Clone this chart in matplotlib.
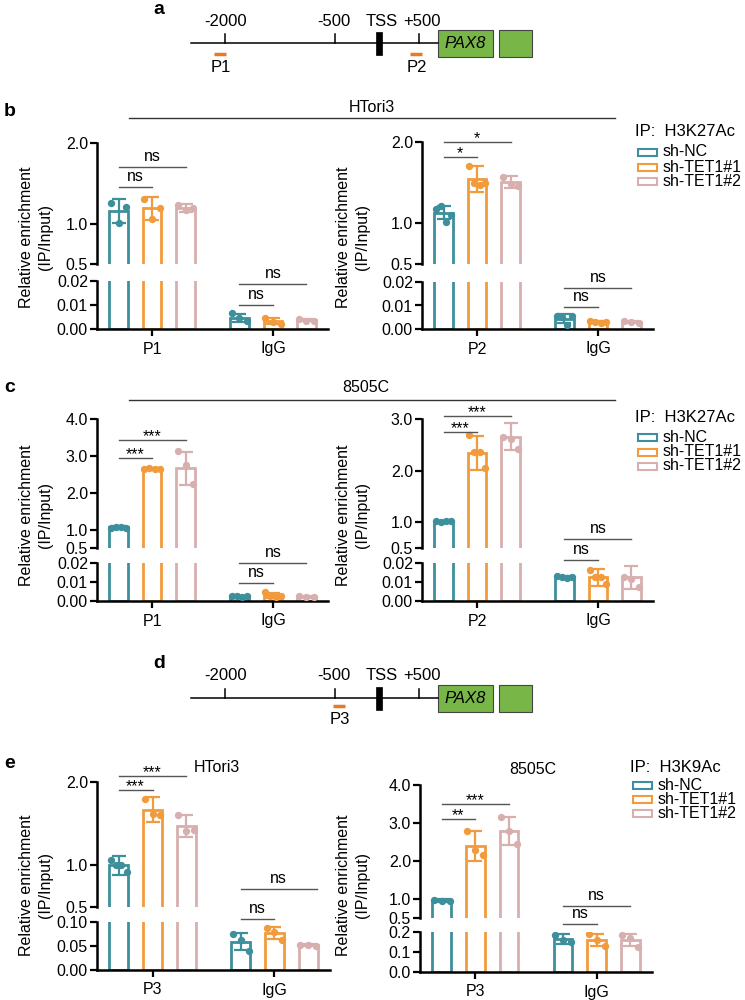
import matplotlib
matplotlib.use("Agg")
import matplotlib.pyplot as plt
from matplotlib.patches import Rectangle
import numpy as np

plt.rcParams['font.family'] = ['Liberation Sans', 'DejaVu Sans']

W, H = 745, 1000

# ---------------- data ----------------
GROUPS = ["sh-NC", "sh-TET1#1", "sh-TET1#2"]
COLORS = ["#3d8f9b", "#f29b3d", "#d8afaf"]

# b: HTori3, H3K27Ac, P1
B1_CATS = ["P1", "IgG"]
B1_P_MEAN = [1.16, 1.19, 1.20]
B1_P_SD = [0.15, 0.14, 0.05]
B1_P_PTS = [[1.26, 1.01, 1.21], [1.31, 1.06, 1.20], [1.23, 1.17, 1.20]]
B1_I_MEAN = [0.0047, 0.0032, 0.0037]
B1_I_SD = [0.0017, 0.0012, 0.0004]
B1_I_PTS = [[0.0065, 0.0045, 0.0032], [0.0045, 0.0028, 0.0022], [0.0042, 0.0035, 0.0035]]
B1_SIG = [("u", 0, 0, 2, 1.70, "ns"), ("u", 0, 0, 1, 1.46, "ns"),
          ("l", 1, 0, 2, 0.0188, "ns"), ("l", 1, 0, 1, 0.0100, "ns")]

# b: HTori3, H3K27Ac, P2
B2_CATS = ["P2", "IgG"]
B2_P_MEAN = [1.13, 1.54, 1.51]
B2_P_SD = [0.08, 0.16, 0.07]
B2_P_PTS = [[1.18, 1.21, 1.02, 1.10], [1.70, 1.50, 1.47, 1.49], [1.57, 1.48, 1.46]]
B2_I_MEAN = [0.0044, 0.0029, 0.0029]
B2_I_SD = [0.0019, 0.0004, 0.0004]
B2_I_PTS = [[0.0055, 0.0050, 0.0015, 0.0055], [0.0032, 0.0028, 0.0025, 0.0030], [0.0032, 0.0028, 0.0026]]
B2_SIG = [("u", 0, 0, 2, 2.00, "*"), ("u", 0, 0, 1, 1.81, "*"),
          ("l", 1, 0, 2, 0.0175, "ns"), ("l", 1, 0, 1, 0.0094, "ns")]

# c: 8505C, H3K27Ac, P1
C1_CATS = ["P1", "IgG"]
C1_P_MEAN = [1.06, 2.65, 2.66]
C1_P_SD = [0.03, 0.03, 0.45]
C1_P_PTS = [[1.04, 1.08, 1.07, 1.05], [2.63, 2.67, 2.65, 2.64], [3.13, 2.74, 2.25]]
C1_I_MEAN = [0.0025, 0.0030, 0.0022]
C1_I_SD = [0.0003, 0.0014, 0.0003]
C1_I_PTS = [[0.0027, 0.0026, 0.0023, 0.0025], [0.0048, 0.0028, 0.0020, 0.0025], [0.0025, 0.0022, 0.0020]]
C1_SIG = [("u", 0, 0, 2, 3.43, "***"), ("u", 0, 0, 1, 2.93, "***"),
          ("l", 1, 0, 2, 0.0200, "ns"), ("l", 1, 0, 1, 0.0095, "ns")]

# c: 8505C, H3K27Ac, P2
C2_CATS = ["P2", "IgG"]
C2_P_MEAN = [1.02, 2.35, 2.66]
C2_P_SD = [0.01, 0.33, 0.27]
C2_P_PTS = [[1.02, 1.01, 1.03, 1.02], [2.69, 2.36, 2.37, 2.05], [2.65, 2.62, 2.41]]
C2_I_MEAN = [0.0125, 0.0125, 0.0125]
C2_I_SD = [0.0005, 0.0045, 0.0060]
C2_I_PTS = [[0.0130, 0.0125, 0.0122, 0.0128], [0.0165, 0.0128, 0.0125, 0.0090], [0.0127, 0.0116, 0.0075]]
C2_SIG = [("u", 0, 0, 2, 3.06, "***"), ("u", 0, 0, 1, 2.75, "***"),
          ("u", 1, 0, 2, 0.67, "ns"), ("l", 1, 0, 1, 0.0215, "ns")]

# e: HTori3, H3K9Ac, P3
E1_CATS = ["P3", "IgG"]
E1_P_MEAN = [1.00, 1.67, 1.47]
E1_P_SD = [0.11, 0.15, 0.13]
E1_P_PTS = [[1.07, 1.00, 1.00, 0.92], [1.80, 1.62, 1.60], [1.60, 1.41, 1.43]]
E1_I_MEAN = [0.059, 0.077, 0.052]
E1_I_SD = [0.018, 0.013, 0.002]
E1_I_PTS = [[0.075, 0.062, 0.040], [0.088, 0.080, 0.062], [0.053, 0.052, 0.051]]
E1_SIG = [("u", 0, 0, 2, 2.07, "***"), ("u", 0, 0, 1, 1.90, "***"),
          ("u", 1, 0, 2.25, 0.72, "ns"), ("l", 1, 0, 1, 0.106, "ns")]

# e: 8505C, H3K9Ac, P3
E2_CATS = ["P3", "IgG"]
E2_P_MEAN = [0.96, 2.40, 2.79]
E2_P_SD = [0.03, 0.40, 0.38]
E2_P_PTS = [[0.97, 0.95, 0.96], [2.80, 2.28, 2.15], [3.15, 2.78, 2.45]]
E2_I_MEAN = [0.165, 0.160, 0.160]
E2_I_SD = [0.025, 0.030, 0.030]
E2_I_PTS = [[0.185, 0.160, 0.150], [0.190, 0.160, 0.130], [0.185, 0.170, 0.125]]
E2_SIG = [("u", 0, 0, 2, 3.50, "***"), ("u", 0, 0, 1, 3.10, "**"),
          ("u", 1, 0, 2, 0.82, "ns"), ("l", 1, 0, 1, 0.24, "ns")]

TICKS_U_2 = [0.5, 1.0, 2.0]
TICKS_U_3 = [0.5, 1.0, 2.0, 3.0]
TICKS_U_4 = [0.5, 1.0, 2.0, 3.0, 4.0]
TICKS_L_002 = [0.0, 0.01, 0.02]
LABELS_L_002 = ["0.00", "0.01", "0.02"]
TICKS_L_010 = [0.0, 0.05, 0.10]
LABELS_L_010 = ["0.00", "0.05", "0.10"]
TICKS_L_02 = [0.0, 0.1, 0.2]
LABELS_L_02 = ["0.0", "0.1", "0.2"]

DIAG_LABELS = ["-2000", "-500", "TSS", "+500"]
YLABEL = "Relative enrichment\n(IP/Input)"

# ---------------- layout ----------------
fig = plt.figure(figsize=(W / 100, H / 100), dpi=100)

OFF = 0.277
BW = 0.153
SPINE_LW = 1.8
FS = 11.5


def px_rect(x0, x1, ytop, ybot):
    return [x0 / W, 1 - ybot / H, (x1 - x0) / W, (ybot - ytop) / H]


def style_axis(ax):
    ax.patch.set_visible(False)
    for s in ("top", "right"):
        ax.spines[s].set_visible(False)
    for s in ("left", "bottom"):
        ax.spines[s].set_linewidth(SPINE_LW)
    ax.tick_params(axis="both", length=5, width=1.6, labelsize=FS, pad=1.5)
    ax.set_xlim(-0.455, 1.455)


def draw_chart(xr, up, lo, ylim_u, ticks_u, ylim_l, ticks_l, labels_l, cats, data, sigs):
    ax_u = fig.add_axes(px_rect(xr[0], xr[1], up[0], up[1]))
    ax_l = fig.add_axes(px_rect(xr[0], xr[1], lo[0], lo[1]))
    for ax in (ax_u, ax_l):
        style_axis(ax)
        for g, (mean, sd, pts) in enumerate(data):
            for i in range(3):
                x = g + (i - 1) * OFF
                ax.bar(x, mean[i], width=BW, facecolor="white", edgecolor=COLORS[i],
                       linewidth=2.0, zorder=2)
                ax.errorbar(x, mean[i], yerr=sd[i], fmt="none", ecolor=COLORS[i],
                            elinewidth=1.6, capsize=5, capthick=1.6, zorder=3)
                n = len(pts[i])
                jit = np.linspace(-0.065, 0.065, n)
                ax.scatter(x + jit, pts[i], s=28, color=COLORS[i], zorder=4, linewidths=0)
    ax_u.set_ylim(*ylim_u)
    ax_u.set_yticks(ticks_u)
    ax_u.set_yticklabels([f"{t:.1f}" for t in ticks_u])
    ax_u.spines["bottom"].set_visible(False)
    ax_u.set_xticks([])
    ax_l.set_ylim(*ylim_l)
    ax_l.set_yticks(ticks_l)
    ax_l.set_yticklabels(labels_l)
    ax_l.set_xticks([0, 1])
    ax_l.set_xticklabels(cats)
    ax_l.tick_params(axis="x", pad=4)
    for which, g, i, j, y, txt in sigs:
        ax = ax_u if which == "u" else ax_l
        x1 = g + (i - 1) * OFF
        x2 = g + (j - 1) * OFF
        ax.plot([x1, x2], [y, y], color="#555555", lw=1.0, clip_on=False, zorder=5)
        dy = 2 if txt == "ns" else -3
        ax.annotate(txt, xy=((x1 + x2) / 2, y), xytext=(0, dy), textcoords="offset points",
                    ha="center", va="bottom", fontsize=FS, annotation_clip=False)
    return ax_u, ax_l


draw_chart((97, 328), (143, 264), (281, 329), (0.5, 2.0), TICKS_U_2, (0, 0.02), TICKS_L_002,
           LABELS_L_002, B1_CATS,
           [(B1_P_MEAN, B1_P_SD, B1_P_PTS), (B1_I_MEAN, B1_I_SD, B1_I_PTS)], B1_SIG)
draw_chart((422, 653), (142, 264), (282, 329), (0.5, 2.0), TICKS_U_2, (0, 0.02), TICKS_L_002,
           LABELS_L_002, B2_CATS,
           [(B2_P_MEAN, B2_P_SD, B2_P_PTS), (B2_I_MEAN, B2_I_SD, B2_I_PTS)], B2_SIG)
draw_chart((97, 328), (419, 548), (563, 601), (0.5, 4.0), TICKS_U_4, (0, 0.02), TICKS_L_002,
           LABELS_L_002, C1_CATS,
           [(C1_P_MEAN, C1_P_SD, C1_P_PTS), (C1_I_MEAN, C1_I_SD, C1_I_PTS)], C1_SIG)
draw_chart((422, 653), (419, 548), (563, 601), (0.5, 3.0), TICKS_U_3, (0, 0.02), TICKS_L_002,
           LABELS_L_002, C2_CATS,
           [(C2_P_MEAN, C2_P_SD, C2_P_PTS), (C2_I_MEAN, C2_I_SD, C2_I_PTS)], C2_SIG)
draw_chart((97, 330), (782, 907), (922, 970), (0.5, 2.0), TICKS_U_2, (0, 0.10), TICKS_L_010,
           LABELS_L_010, E1_CATS,
           [(E1_P_MEAN, E1_P_SD, E1_P_PTS), (E1_I_MEAN, E1_I_SD, E1_I_PTS)], E1_SIG)
draw_chart((420, 652), (785, 918), (932, 972), (0.5, 4.0), TICKS_U_4, (0, 0.2), TICKS_L_02,
           LABELS_L_02, E2_CATS,
           [(E2_P_MEAN, E2_P_SD, E2_P_PTS), (E2_I_MEAN, E2_I_SD, E2_I_PTS)], E2_SIG)

# ---------------- overlay (schematics, titles, legends) ----------------
ov = fig.add_axes([0, 0, 1, 1])
ov.set_xlim(0, W)
ov.set_ylim(H, 0)
ov.axis("off")

TICK_X = [225, 335, None, 419]
LAB_X = [226, 334, 382, 422]
GREEN = "#78b648"


def draw_gene(y, lab_dy, probes):
    ov.plot([191, 438], [y, y], color="black", lw=1.1)
    for tx, lx, lab in zip(TICK_X, LAB_X, DIAG_LABELS):
        if tx is not None:
            ov.plot([tx, tx], [y - 9, y], color="black", lw=1.1)
        ov.text(lx, y - lab_dy, lab, ha="center", va="center", fontsize=12)
    ov.add_patch(Rectangle((376, y - 11), 6, 23, facecolor="black", edgecolor="black", lw=0.5))
    ov.add_patch(Rectangle((438, y - 13), 55, 27, facecolor=GREEN, edgecolor="#444444", lw=0.8))
    ov.add_patch(Rectangle((499, y - 13), 33, 27, facecolor=GREEN, edgecolor="#444444", lw=0.8))
    ov.text(465.5, y + 0.5, "PAX8", ha="center", va="center", fontsize=12, style="italic")
    for (x0, x1, py, ly, name) in probes:
        ov.plot([x0, x1], [py, py], color="#e8782a", lw=2.5, solid_capstyle="butt")
        ov.text((x0 + x1) / 2 + 1, ly, name, ha="center", va="center", fontsize=12)


draw_gene(43, 21, [(214, 226, 54, 68, "P1"), (410, 422, 54, 68, "P2")])
draw_gene(698, 23, [(333, 345, 706, 720, "P3")])

# panel letters
for lab, x, y in [("a", 153, 9), ("b", 4, 112), ("c", 4, 388), ("d", 153, 663), ("e", 4, 763)]:
    ov.text(x, y, lab, fontsize=14, fontweight="bold", ha="left", va="center")

# cell-line headers
ov.plot([129, 615], [118, 118], color="#333333", lw=1.0)
ov.text(372, 107, "HTori3", ha="center", va="center", fontsize=FS)
ov.plot([129, 615], [400, 400], color="#333333", lw=1.0)
ov.text(366, 388, "8505C", ha="center", va="center", fontsize=FS)
ov.text(217, 768, "HTori3", ha="center", va="center", fontsize=FS)
ov.text(533, 770, "8505C", ha="center", va="center", fontsize=FS)

# y labels
for x, y in [(36, 237), (353, 237), (36, 515), (353, 515), (36, 885), (353, 885)]:
    ov.text(x, y, YLABEL, rotation=90, ha="center", va="center", fontsize=FS, linespacing=1.3)


def draw_legend(x, ytitle, ys, title):
    ov.text(x, ytitle, title, ha="left", va="center", fontsize=12)
    for yy, g, c in zip(ys, GROUPS, COLORS):
        ov.add_patch(Rectangle((x + 3, yy - 3.5), 19, 7, facecolor="white", edgecolor=c, lw=1.5))
        ov.text(x + 28, yy, g, ha="left", va="center", fontsize=FS)


draw_legend(635, 132, [152, 167, 181], "IP:  H3K27Ac")
draw_legend(635, 417, [437, 452, 466], "IP:  H3K27Ac")
draw_legend(630, 767, [785, 799, 813], "IP:  H3K9Ac")

fig.savefig("out.png", dpi=100)
